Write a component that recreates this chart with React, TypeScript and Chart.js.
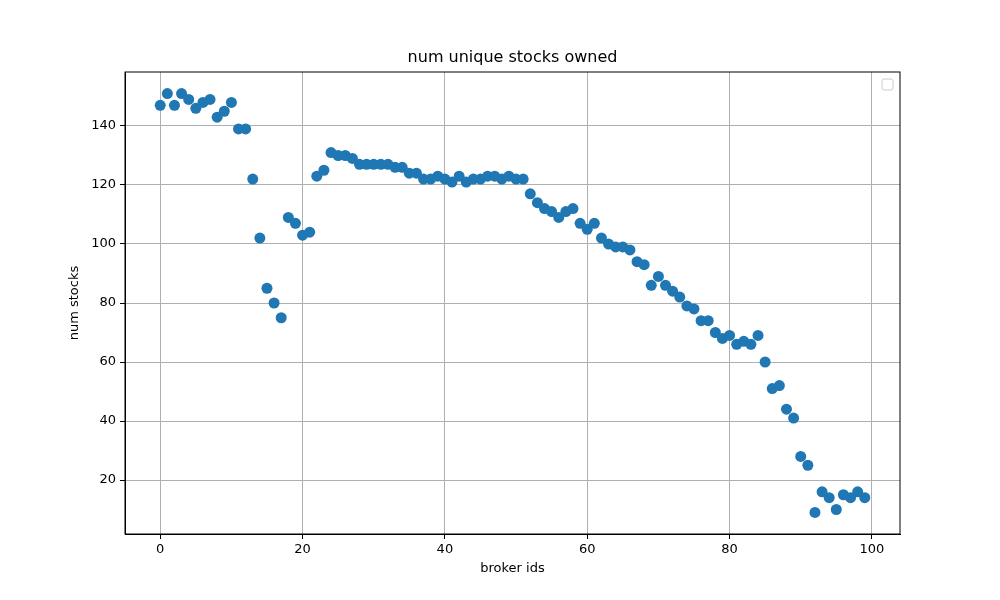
import React, { useEffect, useRef } from "react";
import { Chart, registerables } from "chart.js";

Chart.register(...registerables);

const brokerIds = Array.from({ length: 100 }, (_, i) => i);
const numStocks = [
  147, 151, 147, 151, 149, 146, 148, 149, 143, 145,
  148, 139, 139, 122, 102, 85, 80, 75, 109, 107,
  103, 104, 123, 125, 131, 130, 130, 129, 127, 127,
  127, 127, 127, 126, 126, 124, 124, 122, 122, 123,
  122, 121, 123, 121, 122, 122, 123, 123, 122, 123,
  122, 122, 117, 114, 112, 111, 109, 111, 112, 107,
  105, 107, 102, 100, 99, 99, 98, 94, 93, 86,
  89, 86, 84, 82, 79, 78, 74, 74, 70, 68,
  69, 66, 67, 66, 69, 60, 51, 52, 44, 41,
  28, 25, 9, 16, 14, 10, 15, 14, 16, 14,
];
const xTicks = [0, 20, 40, 60, 80, 100];
const yTicks = [20, 40, 60, 80, 100, 120, 140];

const FONT = "'DejaVu Sans', sans-serif";

const textPlugin = {
  id: "texts",
  afterDraw(chart: any) {
    const { ctx, chartArea } = chart;
    ctx.save();
    ctx.strokeStyle = "#000";
    ctx.lineWidth = 1;
    ctx.strokeRect(chartArea.left, chartArea.top, chartArea.right - chartArea.left, chartArea.bottom - chartArea.top);
    ctx.fillStyle = "#000";
    ctx.textAlign = "center";
    ctx.textBaseline = "middle";
    ctx.font = `16px ${FONT}`;
    ctx.fillText("num unique stocks owned", (chartArea.left + chartArea.right) / 2, 58);
    ctx.font = `13px ${FONT}`;
    ctx.fillText("broker ids", (chartArea.left + chartArea.right) / 2, 569);
    ctx.translate(75, (chartArea.top + chartArea.bottom) / 2);
    ctx.rotate(-Math.PI / 2);
    ctx.fillText("num stocks", 0, 0);
    ctx.restore();
    // empty legend box
    ctx.save();
    ctx.strokeStyle = "#cccccc";
    ctx.fillStyle = "rgba(255,255,255,0.8)";
    ctx.beginPath();
    ctx.roundRect(882, 79, 11, 11, 2);
    ctx.fill();
    ctx.stroke();
    ctx.restore();
  },
};

export default function App() {
  const canvasRef = useRef<HTMLCanvasElement | null>(null);

  useEffect(() => {
    document.body.style.margin = "0";
    if (!canvasRef.current) return;
    const chart = new Chart(canvasRef.current, {
      type: "scatter",
      data: {
        datasets: [
          {
            data: brokerIds.map((x, i) => ({ x, y: numStocks[i] })),
            backgroundColor: "#1f77b4",
            borderColor: "#1f77b4",
            pointRadius: 5.5,
            borderWidth: 0,
          },
        ],
      },
      options: {
        animation: false,
        responsive: false,
        layout: { padding: { top: 72, right: 100, left: 0, bottom: 0 } },
        plugins: { legend: { display: false }, tooltip: { enabled: false } },
        scales: {
          x: {
            type: "linear",
            min: -4.95,
            max: 103.95,
            afterBuildTicks: (s: any) => { s.ticks = xTicks.map((v) => ({ value: v })); },
            afterFit: (s: any) => { s.height = 66; },
            grid: { color: "#b0b0b0", tickColor: "#000", tickLength: 5, drawTicks: true },
            border: { color: "#000" },
            ticks: { color: "#000", font: { family: FONT, size: 13 }, padding: 3, maxRotation: 0 },
          },
          y: {
            min: 1.7,
            max: 158.3,
            afterBuildTicks: (s: any) => { s.ticks = yTicks.map((v) => ({ value: v })); },
            afterFit: (s: any) => { s.width = 125; },
            grid: { color: "#b0b0b0", tickColor: "#000", tickLength: 5, drawTicks: true },
            border: { color: "#000" },
            ticks: { color: "#000", font: { family: FONT, size: 13 }, padding: 4 },
          },
        },
      },
      plugins: [textPlugin],
    });
    return () => chart.destroy();
  }, []);

  return <canvas ref={canvasRef} width={1000} height={600} style={{ display: "block" }} />;
}
